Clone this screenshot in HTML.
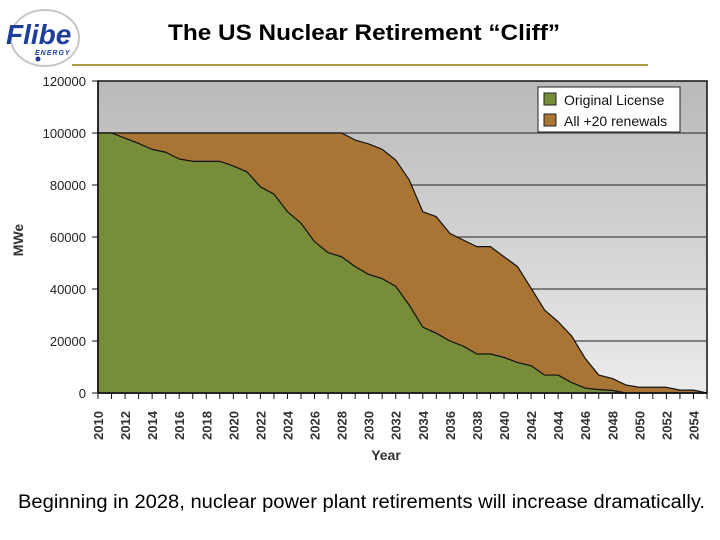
<!DOCTYPE html>
<html><head><meta charset="utf-8"><style>
body{margin:0;width:720px;height:540px;background:#fff;overflow:hidden;font-family:"Liberation Sans",sans-serif}
svg{position:absolute;left:0;top:0}
</style></head><body>
<svg width="720" height="540">
<defs><linearGradient id="bg" x1="0" y1="0" x2="0" y2="1"><stop offset="0" stop-color="#b9b9b9"/><stop offset="1" stop-color="#ebebeb"/></linearGradient></defs>
<g>
<ellipse cx="45" cy="38" rx="34" ry="28" fill="none" stroke="#c8c8c8" stroke-width="2"/>
<text x="6" y="44" font-size="28" font-weight="bold" font-style="italic" fill="#1d3f9a">Flibe</text>
<text x="35" y="55" font-size="7" font-weight="bold" font-style="italic" fill="#1d3f9a" letter-spacing="1">ENERGY</text>
<circle cx="38" cy="59" r="2.5" fill="#1d3f9a"/>
</g>
<text x="168" y="40" textLength="392" lengthAdjust="spacingAndGlyphs" font-size="22" font-weight="bold">The US Nuclear Retirement “Cliff”</text>
<line x1="72" y1="65" x2="648" y2="65" stroke="#a89a3a" stroke-width="2"/>
<rect x="98" y="81" width="609" height="312" fill="url(#bg)" stroke="#111" stroke-width="1.5"/>
<g id="grid"></g><g id="areas"></g><g id="axes"></g>
<g>
<rect x="538" y="87" width="142" height="45" fill="#fff" stroke="#222"/>
<rect x="544" y="93" width="12" height="12" fill="#778d3a" stroke="#222"/>
<text x="564" y="105" font-size="14" fill="#111">Original License</text>
<rect x="544" y="114" width="12" height="12" fill="#a87535" stroke="#222"/>
<text x="564" y="126" font-size="14" fill="#111">All +20 renewals</text>
</g>
<text transform="translate(23,240) rotate(-90)" text-anchor="middle" font-size="14" font-weight="bold" fill="#333">MWe</text>
<text x="386" y="460" text-anchor="middle" font-size="14" font-weight="bold" fill="#333">Year</text>
<text x="18" y="508" textLength="687" lengthAdjust="spacingAndGlyphs" font-size="19">Beginning in 2028, nuclear power plant retirements will increase dramatically.</text>
</svg>
<script>
const years=[2010,2011,2012,2013,2014,2015,2016,2017,2018,2019,2020,2021,2022,2023,2024,2025,2026,2027,2028,2029,2030,2031,2032,2033,2034,2035,2036,2037,2038,2039,2040,2041,2042,2043,2044,2045,2046,2047,2048,2049,2050,2051,2052,2053,2054,2055];
const originalLicense=[100000,100000,98000,96000,93700,92600,90000,89100,89100,89100,87300,85100,79300,76500,69700,65300,58200,54000,52400,48600,45600,44000,41000,33800,25300,23000,20000,18000,15000,15000,13700,11700,10500,6900,6900,4000,1900,1300,1000,0,0,0,0,0,0,0];
const renewals=[100000,100000,100000,100000,100000,100000,100000,100000,100000,100000,100000,100000,100000,100000,100000,100000,100000,100000,100000,97300,95800,93700,89600,81900,69700,67800,61400,58800,56300,56300,52400,48600,40300,31900,27400,21900,13300,6900,5600,3100,2200,2200,2200,1100,1100,0];
const yTicks=[0,20000,40000,60000,80000,100000,120000];
const xTickLabels=[2010,2012,2014,2016,2018,2020,2022,2024,2026,2028,2030,2032,2034,2036,2038,2040,2042,2044,2046,2048,2050,2052,2054];
const NS='http://www.w3.org/2000/svg';
const X=y=>98+(y-2010)*(609/45);
const Y=v=>393-v*(312/120000);
function mk(t,a,p){const e=document.createElementNS(NS,t);for(const k in a)e.setAttribute(k,a[k]);p.appendChild(e);return e;}
const grid=document.getElementById('grid'),areas=document.getElementById('areas'),axes=document.getElementById('axes');
yTicks.forEach(v=>{
 if(v>0&&v<120000){const l=mk('line',{x1:98,x2:707,y1:Y(v),y2:Y(v),stroke:'#444','stroke-width':1.2},grid);
 
 }
 const t=mk('text',{x:86,y:Y(v)+5,'text-anchor':'end','font-size':13,fill:'#222'},axes);t.textContent=v;
 
 
 mk('line',{x1:92,x2:98,y1:Y(v),y2:Y(v),stroke:'#111'},axes);
});
function area(vals,fill,name){
 let d='M'+X(years[0])+','+Y(0);
 years.forEach((y,i)=>d+='L'+X(y)+','+Y(vals[i]));
 d+='L'+X(years[years.length-1])+','+Y(0)+'Z';
 const p=mk('path',{d:d,fill:fill,stroke:'#111','stroke-width':1.2,'stroke-linejoin':'round'},areas);
 
 
}
area(renewals,'#a87535','area-renewals');
area(originalLicense,'#778d3a','area-original-license');
mk('line',{x1:98,x2:707,y1:393,y2:393,stroke:'#111','stroke-width':1.5},axes);
mk('line',{x1:98,x2:98,y1:81,y2:393,stroke:'#111','stroke-width':1.5},axes);
years.forEach(y=>mk('line',{x1:X(y),x2:X(y),y1:393,y2:399,stroke:'#111'},axes));
xTickLabels.forEach(y=>{
 const t=mk('text',{transform:`translate(${X(y)+5},${440}) rotate(-90)`,'font-size':13,'font-weight':'bold',fill:'#333'},axes);
 t.textContent=y;
 
 
});
</script>
</body></html>
